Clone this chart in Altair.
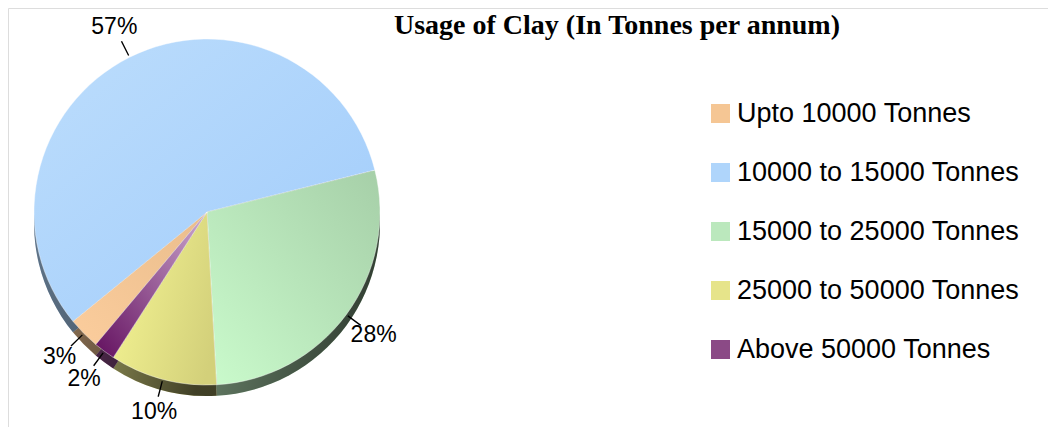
import math
import altair as alt
import pandas as pd

# ---- data ----
categories = [
    "Upto 10000 Tonnes",
    "10000 to 15000 Tonnes",
    "15000 to 25000 Tonnes",
    "25000 to 50000 Tonnes",
    "Above 50000 Tonnes",
]
shares = [3, 57, 28, 10, 2]           # percent of respondents
pie_order = [3, 4, 0, 1, 2]           # clockwise drawing order of slices
title_text = "Usage of Clay (In Tonnes per annum)"

# ---- styles ----
colors = ["#F5C694", "#AFD5FB", "#BBE8BD", "#E6E48A", "#8B4A86"]
# per-slice shading (light -> dark), direction as gradient vector
shading = {
    "Upto 10000 Tonnes": ("#FBCD9D", "#EABD8C", (0, 1, 1, 0)),
    "10000 to 15000 Tonnes": ("#BCDDFC", "#A1CCFB", (0, 0, 1, 1)),
    "15000 to 25000 Tonnes": ("#CAFBCC", "#A6CFA8", (0, 1, 1, 0)),
    "25000 to 50000 Tonnes": ("#F3F392", "#D3D07A", (0, 0.3, 1, 0.7)),
    "Above 50000 Tonnes": ("#63105F", "#CDA8CF", (0, 1, 1, 0)),
}

df = pd.DataFrame({"category": categories, "share": shares, "ord": pie_order})
df["label"] = [f"{s}%" for s in shares]

# ---- layout ----
W, H = 1040, 419
CX, CY = 199, 204
R = 173
DEPTH = 11
LABEL_R = 207
start = math.radians(76)

theta_scale = alt.Scale(domain=[0, 100], range=[start, start + 2 * math.pi])
color_scale = alt.Scale(domain=categories, range=colors)
legend = alt.Legend(
    title=None, orient="none", legendX=699, legendY=92, padding=0,
    symbolType="square", symbolSize=361, symbolStrokeWidth=0,
    labelFont="Liberation Sans", labelFontSize=27, labelColor="black",
    labelOffset=3, rowPadding=31, labelLimit=400,
)
color = alt.Color("category:N", scale=color_scale, legend=legend)

base = alt.Chart(df)
theta = alt.Theta("share:Q", stack=True, scale=theta_scale)
order = alt.Order("ord:Q", sort="ascending")

# 3D side of the disc
side = base.mark_arc().encode(
    theta=theta, order=order, color=color,
    x=alt.value(CX), y=alt.value(CY + DEPTH), radius=alt.value(R),
)
side_shade = base.mark_arc(
    fill=alt.Gradient(
        gradient="linear", x1=0, y1=0, x2=1, y2=0.3,
        stops=[alt.GradientStop(color="rgba(0,0,0,0.4)", offset=0),
               alt.GradientStop(color="rgba(0,0,0,0.72)", offset=1)],
    )
).encode(
    theta=theta, order=order,
    x=alt.value(CX), y=alt.value(CY + DEPTH), radius=alt.value(R),
)

# top face, one shaded layer per slice (angles stacked before filtering)
stacked = base.transform_window(
    cum="sum(share)", sort=[alt.SortField("ord")], frame=[None, 0]
).transform_calculate(t0="datum.cum - datum.share")

faces = []
for cat in categories:
    c0, c1, (x1, y1, x2, y2) = shading[cat]
    faces.append(
        stacked.transform_filter(alt.datum.category == cat).mark_arc(
            fill=alt.Gradient(
                gradient="linear", x1=x1, y1=y1, x2=x2, y2=y2,
                stops=[alt.GradientStop(color=c0, offset=0),
                       alt.GradientStop(color=c1, offset=1)],
            ),
            stroke="white", strokeWidth=0.5, strokeOpacity=0.8,
        ).encode(
            theta=alt.Theta("t0:Q", stack=None, scale=theta_scale),
            theta2="cum:Q",
            x=alt.value(CX), y=alt.value(CY), radius=alt.value(R),
        )
    )

leaders = stacked.transform_calculate(
    a="datum.cum - datum.share/2 - 0.06",
    b="datum.cum - datum.share/2 + 0.06",
).mark_arc(color="black").encode(
    theta=alt.Theta("a:Q", stack=None, scale=theta_scale),
    theta2="b:Q",
    x=alt.value(CX), y=alt.value(CY),
    radius=alt.value(LABEL_R - 16), radius2=alt.value(R + 2),
)
labels = base.mark_text(font="Liberation Sans", fontSize=23, color="black").encode(
    theta=theta, order=order, text="label:N",
    x=alt.value(CX), y=alt.value(CY), radius=alt.value(LABEL_R),
)
title = alt.Chart(pd.DataFrame({"t": [title_text]})).mark_text(
    font="Liberation Serif", fontSize=28, fontWeight="bold", color="black",
    align="center", baseline="alphabetic",
).encode(text="t:N", x=alt.value(609), y=alt.value(26))

chart = alt.layer(side, side_shade, *faces, leaders, labels, title).properties(
    width=W, height=H, padding=0, autosize="none",
).configure_view(strokeWidth=0, stroke="transparent").configure(background="white")

chart.save("out.html", embed_options={"renderer": "svg", "actions": False})
